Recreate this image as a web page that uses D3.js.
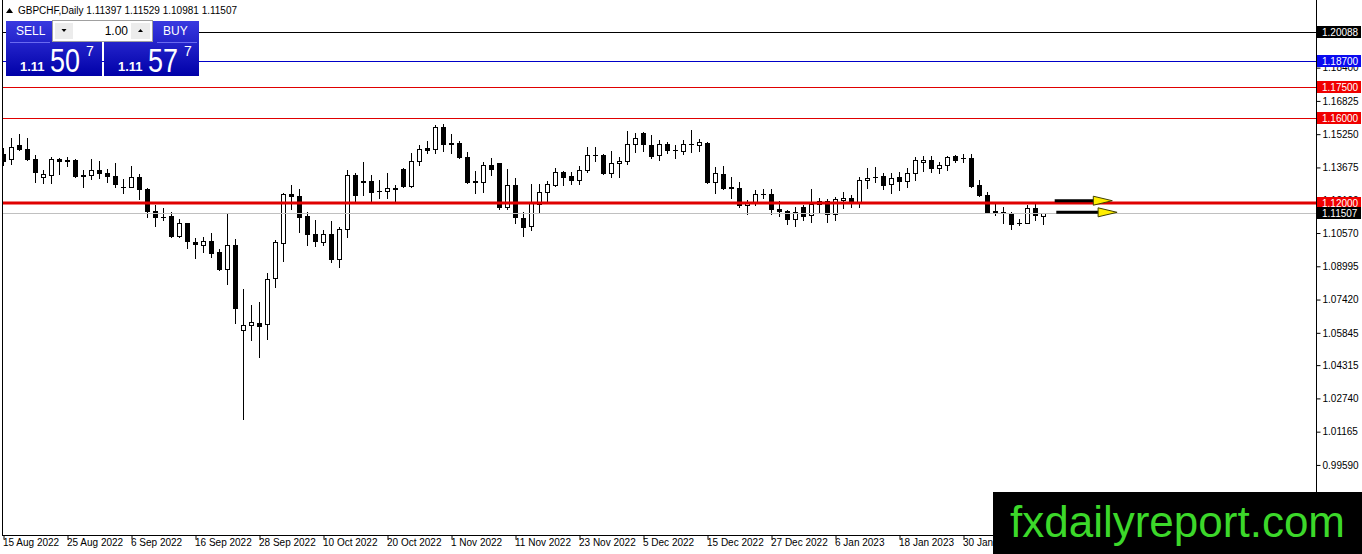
<!DOCTYPE html>
<html>
<head>
<meta charset="utf-8">
<script src="https://cdn.jsdelivr.net/npm/d3@7"></script>
<style>
  body { margin: 0; background: #fff; }
  svg { display: block; font-family: "Liberation Sans", Arial, sans-serif; }
</style>
</head>
<body>
<svg id="chart" width="1362" height="554"></svg>
<script>
// ---- data ----
const symbolName = "GBPCHF,Daily";
const dateLabels = ["15 Aug 2022", "25 Aug 2022", "6 Sep 2022", "16 Sep 2022", "28 Sep 2022",
  "10 Oct 2022", "20 Oct 2022", "1 Nov 2022", "11 Nov 2022", "23 Nov 2022", "5 Dec 2022",
  "15 Dec 2022", "27 Dec 2022", "6 Jan 2023", "18 Jan 2023", "30 Jan 2023"];
const labelEvery = 8;   // one date label every 8 bars
const priceTicks = [1.19975, 1.18400, 1.16825, 1.15250, 1.13675, 1.12100, 1.10570, 1.08995,
  1.07420, 1.05845, 1.04315, 1.02740, 1.01165, 0.99590];

const open = [
  1.1431, 1.1406, 1.1474, 1.1453, 1.1408, 1.1321, 1.1330, 1.1408, 1.1403, 1.1403,
  1.1332, 1.1332, 1.1355, 1.1343, 1.1327, 1.1277, 1.1276, 1.1322, 1.1265, 1.1161,
  1.1135, 1.1138, 1.1043, 1.1103, 1.1014, 1.0999, 1.1018, 1.0966, 1.0888, 1.1000,
  1.0596, 1.0620, 1.0630, 1.0625, 1.0843, 1.1008, 1.1240, 1.1232, 1.1138, 1.1052,
  1.1016, 1.1052, 1.0933, 1.1076, 1.1330, 1.1301, 1.1303, 1.1258, 1.1257, 1.1268,
  1.1359, 1.1280, 1.1399, 1.1458, 1.1453, 1.1560, 1.1481, 1.1482, 1.1416, 1.1301,
  1.1297, 1.1378, 1.1387, 1.1179, 1.1283, 1.1127, 1.1092, 1.1193, 1.1250, 1.1284,
  1.1345, 1.1327, 1.1307, 1.1354, 1.1427, 1.1426, 1.1343, 1.1387, 1.1397, 1.1477,
  1.1529, 1.1474, 1.1425, 1.1477, 1.1450, 1.1445, 1.1478, 1.1474, 1.1482, 1.1300,
  1.1337, 1.1273, 1.1272, 1.1190, 1.1202, 1.1241, 1.1242, 1.1169, 1.1160, 1.1122,
  1.1179, 1.1141, 1.1194, 1.1207, 1.1146, 1.1212, 1.1223, 1.1202, 1.1307, 1.1323,
  1.1327, 1.1288, 1.1321, 1.1303, 1.1340, 1.1393, 1.1403, 1.1366, 1.1379, 1.1422,
  1.1412, 1.1411, 1.1283, 1.1236, 1.1159, 1.1156, 1.1150, 1.1104, 1.1106, 1.1174,
  1.11397];
const high = [
  1.1460, 1.1507, 1.1526, 1.1506, 1.1425, 1.1355, 1.1417, 1.1411, 1.1418, 1.1408,
  1.1355, 1.1406, 1.1398, 1.1360, 1.1390, 1.1311, 1.1374, 1.1337, 1.1268, 1.1190,
  1.1177, 1.1158, 1.1125, 1.1106, 1.1035, 1.1038, 1.1057, 1.0980, 1.1147, 1.1027,
  1.0791, 1.0715, 1.0730, 1.0866, 1.1024, 1.1245, 1.1283, 1.1265, 1.1157, 1.1119,
  1.1071, 1.1114, 1.1087, 1.1355, 1.1343, 1.1395, 1.1332, 1.1308, 1.1343, 1.1284,
  1.1363, 1.1435, 1.1472, 1.1493, 1.1568, 1.1573, 1.1525, 1.1493, 1.1442, 1.1352,
  1.1395, 1.1411, 1.1390, 1.1359, 1.1316, 1.1158, 1.1289, 1.1288, 1.1305, 1.1366,
  1.1351, 1.1345, 1.1376, 1.1463, 1.1463, 1.1430, 1.1447, 1.1416, 1.1540, 1.1529,
  1.1537, 1.1521, 1.1497, 1.1487, 1.1474, 1.1497, 1.1545, 1.1502, 1.1490, 1.1368,
  1.1376, 1.1321, 1.1300, 1.1213, 1.1261, 1.1264, 1.1265, 1.1209, 1.1166, 1.1182,
  1.1190, 1.1265, 1.1224, 1.1218, 1.1229, 1.1253, 1.1237, 1.1324, 1.1363, 1.1371,
  1.1340, 1.1340, 1.1347, 1.1363, 1.1418, 1.1423, 1.1423, 1.1395, 1.1423, 1.1426,
  1.1430, 1.1430, 1.1308, 1.1253, 1.1205, 1.1180, 1.1158, 1.1122, 1.1190, 1.1194,
  1.11529];
const low = [
  1.1379, 1.1384, 1.1450, 1.1403, 1.1300, 1.1292, 1.1295, 1.1335, 1.1374, 1.1324,
  1.1276, 1.1311, 1.1319, 1.1300, 1.1276, 1.1245, 1.1275, 1.1217, 1.1134, 1.1092,
  1.1119, 1.1037, 1.1036, 1.0985, 1.0940, 1.0969, 1.0945, 1.0883, 1.0814, 1.0632,
  1.0175, 1.0550, 1.0469, 1.0554, 1.0803, 1.0926, 1.1173, 1.1063, 1.1000, 1.0996,
  1.1000, 1.0921, 1.0895, 1.1040, 1.1210, 1.1237, 1.1205, 1.1221, 1.1221, 1.1205,
  1.1276, 1.1276, 1.1381, 1.1435, 1.1435, 1.1447, 1.1437, 1.1414, 1.1295, 1.1245,
  1.1253, 1.1332, 1.1171, 1.1169, 1.1106, 1.1043, 1.1071, 1.1150, 1.1198, 1.1281,
  1.1284, 1.1289, 1.1289, 1.1347, 1.1398, 1.1335, 1.1324, 1.1324, 1.1385, 1.1439,
  1.1445, 1.1411, 1.1404, 1.1436, 1.1414, 1.1431, 1.1442, 1.1445, 1.1295, 1.1245,
  1.1265, 1.1221, 1.1182, 1.1146, 1.1190, 1.1224, 1.1147, 1.1139, 1.1100, 1.1092,
  1.1119, 1.1111, 1.1158, 1.1108, 1.1119, 1.1174, 1.1182, 1.1182, 1.1269, 1.1300,
  1.1265, 1.1245, 1.1261, 1.1276, 1.1308, 1.1351, 1.1345, 1.1340, 1.1355, 1.1392,
  1.1392, 1.1274, 1.1232, 1.1150, 1.1144, 1.1106, 1.1075, 1.1095, 1.1103, 1.1119,
  1.10981];
const close = [
  1.1398, 1.1466, 1.1453, 1.1406, 1.1345, 1.1336, 1.1406, 1.1398, 1.1397, 1.1328,
  1.1329, 1.1354, 1.1343, 1.1326, 1.1288, 1.1276, 1.1321, 1.1264, 1.1161, 1.1132,
  1.1134, 1.1043, 1.1103, 1.1019, 1.1004, 1.1018, 1.0964, 1.0887, 1.1000, 1.0704,
  1.0620, 1.0634, 1.0619, 1.0839, 1.1014, 1.1240, 1.1234, 1.1134, 1.1051, 1.1021,
  1.1051, 1.0933, 1.1077, 1.1330, 1.1237, 1.1300, 1.1253, 1.1257, 1.1270, 1.1267,
  1.1281, 1.1399, 1.1456, 1.1450, 1.1558, 1.1477, 1.1480, 1.1416, 1.1300, 1.1300,
  1.1378, 1.1362, 1.1179, 1.1283, 1.1134, 1.1087, 1.1198, 1.1250, 1.1288, 1.1345,
  1.1324, 1.1307, 1.1355, 1.1425, 1.1426, 1.1343, 1.1387, 1.1397, 1.1477, 1.1506,
  1.1477, 1.1422, 1.1477, 1.1449, 1.1449, 1.1477, 1.1477, 1.1487, 1.1300, 1.1340,
  1.1272, 1.1272, 1.1190, 1.1202, 1.1240, 1.1240, 1.1169, 1.1160, 1.1122, 1.1155,
  1.1139, 1.1193, 1.1207, 1.1146, 1.1218, 1.1223, 1.1202, 1.1308, 1.1319, 1.1322,
  1.1284, 1.1319, 1.1303, 1.1340, 1.1401, 1.1403, 1.1366, 1.1379, 1.1418, 1.1401,
  1.1411, 1.1280, 1.1236, 1.1158, 1.1158, 1.1155, 1.1100, 1.1103, 1.1174, 1.1142,
  1.11507];

const levels = [1.20088, 1.18700, 1.17500, 1.16000, 1.12000];   // drawn horizontal lines
const arrowPrice = [1.1210, 1.1155];
const arrowFrom = [131.4, 131.6];   // bar positions
const arrowTo = [138.6, 139.2];
const sellPrice = ["1.11", "50", "7"];
const buyPrice = ["1.11", "57", "7"];
const lotSize = "1.00";

// ---- scales ----
const W = 1362, H = 554;
const plotRight = 1316.5, plotBottom = 535;
const xScale = d3.scaleLinear().domain([0, 164]).range([3.5, 1315.5]);
const yScale = d3.scaleLinear().domain([0.96272, 1.21603]).range([plotBottom, 0]);
const crisp = v => Math.round(v) + 0.5;

const svg = d3.select("#chart");
svg.append("rect").attr("width", W).attr("height", H).attr("fill", "#fff");

const defs = svg.append("defs");
defs.append("clipPath").attr("id", "plot")
  .append("rect").attr("x", 3).attr("y", 0).attr("width", plotRight - 3).attr("height", plotBottom);
defs.append("clipPath").attr("id", "dates")
  .append("rect").attr("x", 0).attr("y", plotBottom).attr("width", 993).attr("height", H - plotBottom);
const grad = defs.append("linearGradient").attr("id", "blue").attr("x1", 0).attr("y1", 0).attr("x2", 0).attr("y2", 1);
grad.append("stop").attr("offset", "0%").attr("stop-color", "#3a3ae0");
grad.append("stop").attr("offset", "100%").attr("stop-color", "#0000a8");

// ---- candles ----
const bars = open.map((o, i) => ({ i, o, h: high[i], l: low[i], c: close[i] }));
const plot = svg.append("g").attr("clip-path", "url(#plot)");
const bodyPx = d => Math.round(yScale(Math.min(d.o, d.c))) - Math.round(yScale(Math.max(d.o, d.c)));

plot.selectAll(".wick").data(bars).enter().append("line")
  .attr("x1", d => xScale(d.i)).attr("x2", d => xScale(d.i))
  .attr("y1", d => Math.round(yScale(d.h))).attr("y2", d => Math.round(yScale(d.l)) + 1)
  .attr("stroke", "#000").attr("stroke-width", 1);

plot.selectAll(".body").data(bars.filter(d => bodyPx(d) >= 1))
  .enter().append("rect")
  .attr("x", d => xScale(d.i) - 2)
  .attr("width", 4)
  .attr("y", d => crisp(yScale(Math.max(d.o, d.c))))
  .attr("height", d => bodyPx(d))
  .attr("fill", d => d.c >= d.o ? "#fff" : "#000")
  .attr("stroke", "#000").attr("stroke-width", 1);

plot.selectAll(".doji").data(bars.filter(d => bodyPx(d) < 1))
  .enter().append("line")
  .attr("x1", d => xScale(d.i) - 2.5).attr("x2", d => xScale(d.i) + 2.5)
  .attr("y1", d => crisp(yScale(d.c))).attr("y2", d => crisp(yScale(d.c)))
  .attr("stroke", "#000").attr("stroke-width", 1);

// ---- horizontal lines ----
const lineColor = ["#000000", "#0000c8", "#e00000", "#e00000", "#e00000"];
const boxColor = ["#000000", "#0a0af0", "#f00000", "#f00000", "#f00000"];
const lineWidth = [1, 1, 1, 1, 3];
const bid = close[close.length - 1];

plot.append("line")
  .attr("x1", 0).attr("x2", plotRight)
  .attr("y1", crisp(yScale(bid))).attr("y2", crisp(yScale(bid)))
  .attr("stroke", "#c0c0c0").attr("stroke-width", 1);

plot.selectAll(".level").data(levels).enter().append("line")
  .attr("x1", 0).attr("x2", plotRight)
  .attr("y1", (d, i) => lineWidth[i] === 1 ? crisp(yScale(d)) : Math.round(yScale(d)))
  .attr("y2", (d, i) => lineWidth[i] === 1 ? crisp(yScale(d)) : Math.round(yScale(d)))
  .attr("stroke", (d, i) => lineColor[i]).attr("stroke-width", (d, i) => lineWidth[i]);

// ---- arrows ----
arrowPrice.forEach((p, k) => {
  const y = yScale(p), x0 = xScale(arrowFrom[k]), x1 = xScale(arrowTo[k]);
  plot.append("line").attr("x1", x0).attr("x2", x1 - 16).attr("y1", y).attr("y2", y)
    .attr("stroke", "#000").attr("stroke-width", 3);
  plot.append("path")
    .attr("d", `M${x1 - 19},${y - 4.5} L${x1},${y} L${x1 - 19},${y + 4.5} Z`)
    .attr("fill", "#ffee00").attr("stroke", "#404000").attr("stroke-width", 1);
});

// ---- frame ----
svg.append("line").attr("x1", 2.5).attr("x2", 2.5).attr("y1", 0).attr("y2", plotBottom + 1).attr("stroke", "#000");
svg.append("line").attr("x1", plotRight).attr("x2", plotRight).attr("y1", 0).attr("y2", plotBottom + 1).attr("stroke", "#000");
svg.append("line").attr("x1", 2).attr("x2", plotRight).attr("y1", plotBottom + 0.5).attr("y2", plotBottom + 0.5).attr("stroke", "#000");

// ---- price axis ----
const yAxis = d3.axisRight(yScale).tickValues(priceTicks).tickSize(4).tickFormat(d3.format(".5f"));
const yg = svg.append("g").attr("transform", `translate(${plotRight},0)`).call(yAxis);
yg.select(".domain").remove();
yg.selectAll(".tick text").attr("font-size", 10).attr("font-family", "Liberation Sans, Arial, sans-serif").attr("fill", "#000").attr("x", 6);
yg.selectAll(".tick line").attr("stroke", "#000");

// ---- date axis (the watermark covers the right end) ----
const labelBars = dateLabels.map((d, k) => k * labelEvery);
const xAxis = d3.axisBottom(xScale).tickValues(labelBars).tickSize(4).tickFormat((d, k) => dateLabels[k]);
const xg = svg.append("g").attr("clip-path", "url(#dates)")
  .append("g").attr("transform", `translate(0,${plotBottom + 0.5})`).call(xAxis);
xg.select(".domain").remove();
xg.selectAll(".tick text").attr("font-size", 10).attr("font-family", "Liberation Sans, Arial, sans-serif")
  .attr("fill", "#000").attr("text-anchor", "start").attr("x", -1).attr("y", 3);
xg.selectAll(".tick line").attr("stroke", "#000");

// ---- price labels on the axis ----
const tagValues = levels.concat([bid]);
const tagColors = boxColor.concat(["#000000"]);
const tags = svg.selectAll(".tag").data(tagValues).enter().append("g")
  .attr("transform", d => `translate(${plotRight + 0.5},${Math.round(yScale(d))})`);
tags.append("rect").attr("x", 0).attr("y", -6).attr("width", 44).attr("height", 12)
  .attr("fill", (d, i) => tagColors[i]);
tags.append("text").attr("x", 5).attr("y", 4).attr("font-size", 10).attr("fill", "#fff")
  .text(d => d3.format(".5f")(d));

// ---- header ----
svg.append("path").attr("d", "M6,13 L13,13 L9.5,8 Z").attr("fill", "#000");
svg.append("text").attr("x", 18).attr("y", 14).attr("font-size", 10).attr("fill", "#000")
  .text(`${symbolName}  ${[open, high, low, close].map(a => a[a.length - 1].toFixed(5)).join(" ")}`);

// ---- one click trading panel ----
function pricePanel(x, w, label, labelX, price) {
  const g = svg.append("g");
  g.append("rect").attr("x", x).attr("y", 21).attr("width", w).attr("height", 55).attr("fill", "url(#blue)");
  g.append("text").attr("x", labelX).attr("y", 35).attr("font-size", 12).attr("fill", "#fff").text(label);
  g.append("line").attr("x1", labelX - 6).attr("x2", labelX + 34).attr("y1", 42.5).attr("y2", 42.5)
    .attr("stroke", "#6a6af0");
  g.append("text").attr("x", x + 14).attr("y", 71).attr("font-size", 13).attr("font-weight", "bold")
    .attr("fill", "#fff").text(price[0]);
  g.append("text").attr("x", x + 44).attr("y", 72).attr("font-size", 33).attr("fill", "#fff")
    .attr("textLength", 30).attr("lengthAdjust", "spacingAndGlyphs").text(price[1]);
  g.append("text").attr("x", x + 80).attr("y", 56).attr("font-size", 14).attr("fill", "#fff").text(price[2]);
}
pricePanel(6, 96, "SELL", 16, sellPrice);
pricePanel(104, 95, "BUY", 163, buyPrice);

const spin = svg.append("g");
spin.append("rect").attr("x", 52.5).attr("y", 20.5).attr("width", 100).attr("height", 21)
  .attr("fill", "#fff").attr("stroke", "#a0a0a0");
spin.append("rect").attr("x", 55).attr("y", 23).attr("width", 18).attr("height", 16).attr("fill", "#ececec");
spin.append("rect").attr("x", 131).attr("y", 23).attr("width", 19).attr("height", 16).attr("fill", "#ececec");
spin.append("path").attr("d", "M61.5,29 L66.5,29 L64,32 Z").attr("fill", "#000");
spin.append("path").attr("d", "M138,32 L143,32 L140.5,29 Z").attr("fill", "#000");
spin.append("text").attr("x", 128).attr("y", 35).attr("text-anchor", "end").attr("font-size", 12)
  .attr("fill", "#000").text(lotSize);

// ---- watermark ----
svg.append("rect").attr("x", 993).attr("y", 492).attr("width", W - 993).attr("height", H - 492).attr("fill", "#000");
svg.append("text").attr("x", 1010).attr("y", 537).attr("font-size", 44)
  .attr("font-family", "Liberation Sans, Arial, sans-serif").attr("fill", "#3cd82a")
  .text("fxdailyreport.com");
</script>
</body>
</html>
